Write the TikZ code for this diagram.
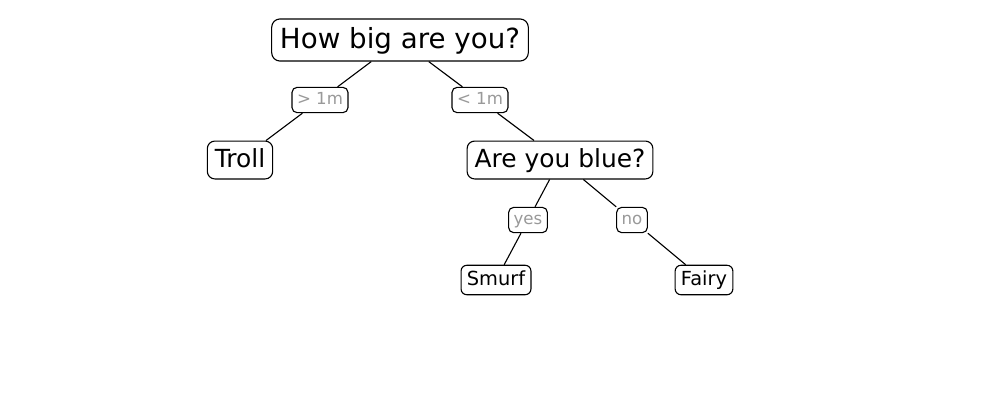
\documentclass[tikz,border=0pt]{standalone}
\usepackage{fontspec}
\setmainfont{DejaVu Sans}
\usepackage{tikz}
\usetikzlibrary{positioning}
\definecolor{labelgray}{RGB}{153,153,153}

\begin{document}
\begin{tikzpicture}[x=0.01in, y=-0.01in,
        qbox/.style={font=\fontsize{#1}{#1}\selectfont, draw, fill=white, line width=0.8pt,
            rounded corners={0.3*#1pt}, inner xsep={0.3*#1pt}, inner ysep={0.3*#1pt},
            text height={0.76*#1pt}, text depth={0.16*#1pt}},
        ansbox/.style={qbox=12, text=labelgray},
        edge/.style={line width=0.8pt}]
        \useasboundingbox (0,0) rectangle (1000,400);

        % Questions and leaves
        \node[qbox=20] (root) at (400,40) {How big are you?};
        \node[qbox=18] (troll) at (240,160) {Troll};
        \node[qbox=18] (blue) at (560,160) {Are you blue?};
        \node[qbox=14] (smurf) at (496,280) {Smurf};
        \node[qbox=14] (fairy) at (704,280) {Fairy};

        % Answers on the branches
        \node[ansbox] (big) at (320,100) {> 1m};
        \node[ansbox] (small) at (480,100) {< 1m};
        \node[ansbox] (yes) at (528,220) {yes};
        \node[ansbox] (no) at (632,220) {no};

        % Branches
        \draw[edge] (root) -- (big) -- (troll);
        \draw[edge] (root) -- (small) -- (blue);
        \draw[edge] (blue) -- (yes) -- (smurf);
        \draw[edge] (blue) -- (no) -- (fairy);
\end{tikzpicture}
\end{document}
